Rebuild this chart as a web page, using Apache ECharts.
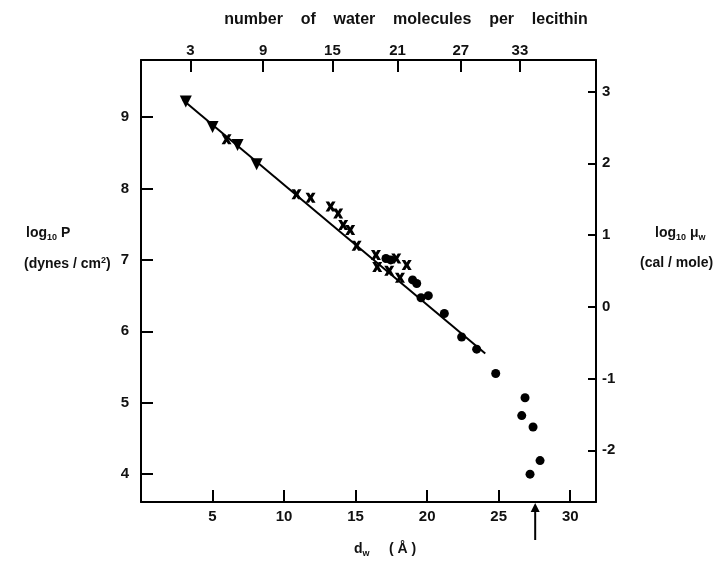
<!DOCTYPE html>
<html>
<head>
<meta charset="utf-8">
<script src="https://cdn.jsdelivr.net/npm/echarts@6/dist/echarts.min.js"></script>
<style>html,body{margin:0;padding:0;background:#fff}#c{width:728px;height:561px}</style>
</head>
<body>
<div id="c"></div>
<script>
// ---- data ----
const triX = [3.13, 5.00, 6.75, 8.08];
const triY = [9.22, 8.86, 8.61, 8.34];
const crossX = [5.98, 10.87, 11.85, 13.25, 13.78, 14.13, 14.62, 15.07, 16.42, 16.51, 17.35, 17.84, 18.10, 18.57];
const crossY = [8.69, 7.92, 7.87, 7.75, 7.65, 7.49, 7.42, 7.20, 7.07, 6.90, 6.85, 7.02, 6.75, 6.93];
const circleX = [17.12, 17.45, 18.98, 19.27, 19.57, 20.08, 21.20, 22.41, 23.46, 24.79, 26.84, 26.61, 27.40, 27.89, 27.19];
const circleY = [7.02, 7.00, 6.72, 6.67, 6.47, 6.50, 6.25, 5.92, 5.75, 5.41, 5.07, 4.82, 4.66, 4.19, 4.00];
const fitX = [2.93, 24.06];
const fitY = [9.24, 5.69];
const bottomTicks = [5, 10, 15, 20, 25, 30];
const leftTicks = [4, 5, 6, 7, 8, 9];
const rightTicks = [-2, -1, 0, 1, 2, 3];
const topTickLabels = ['3', '9', '15', '21', '27', '33'];
const topTickPos = [3.46, 8.53, 13.38, 17.93, 22.35, 26.48];
const arrowX = 27.55;
const xMin = 0, xMax = 31.8;
const yLeftMin = 3.61, yLeftMax = 9.80;
const yRightMin = -2.72, yRightMax = 3.44;

const zip = (a, b) => a.map((v, i) => [v, b[i]]);
const FONT = 'Liberation Sans';
const lab = {fontFamily: FONT, fontSize: 15, fontWeight: 'bold', color: '#111'};
const axLine = {show: true, onZero: false, lineStyle: {color: '#000', width: 2}};
const F14 = 'bold 14px "Liberation Sans"';
const F16 = 'bold 16px "Liberation Sans"';
const F9 = 'bold 9px "Liberation Sans"';

const chart = echarts.init(document.getElementById('c'), null, {renderer: 'canvas'});
chart.setOption({
  animation: false,
  backgroundColor: '#fff',
  grid: {left: 141, right: 132, top: 60, bottom: 59, containLabel: false},
  xAxis: [
    {type: 'value', position: 'bottom', min: xMin, max: xMax,
     axisLine: axLine, splitLine: {show: false},
     axisTick: {show: true, inside: true, length: 12, lineStyle: {color: '#000', width: 2}, customValues: bottomTicks},
     axisLabel: Object.assign({margin: 7, customValues: bottomTicks}, lab)},
    {type: 'value', position: 'top', min: xMin, max: xMax,
     axisLine: axLine, splitLine: {show: false},
     axisTick: {show: true, inside: true, length: 12, lineStyle: {color: '#000', width: 2}, customValues: topTickPos},
     axisLabel: Object.assign({margin: 2, customValues: topTickPos,
       formatter: v => { const i = topTickPos.findIndex(p => Math.abs(p - v) < 1e-6); return i >= 0 ? topTickLabels[i] : ''; }}, lab)}
  ],
  yAxis: [
    {type: 'value', position: 'left', min: yLeftMin, max: yLeftMax,
     axisLine: axLine, splitLine: {show: false},
     axisTick: {show: true, inside: true, length: 12, lineStyle: {color: '#000', width: 2}, customValues: leftTicks},
     axisLabel: Object.assign({margin: 12, customValues: leftTicks}, lab)},
    {type: 'value', position: 'right', min: yRightMin, max: yRightMax,
     axisLine: axLine, splitLine: {show: false},
     axisTick: {show: true, inside: true, length: 8, lineStyle: {color: '#000', width: 2}, customValues: rightTicks},
     axisLabel: Object.assign({margin: 6, customValues: rightTicks}, lab)}
  ],
  series: [
    {type: 'line', data: zip(fitX, fitY), showSymbol: false, symbol: 'none',
     lineStyle: {color: '#000', width: 2}, z: 1},
    {type: 'scatter', data: zip(triX, triY), symbol: 'triangle', symbolRotate: 180, symbolSize: 12,
     itemStyle: {color: '#000', opacity: 1}, z: 3},
    {type: 'scatter', data: zip(crossX, crossY),
     symbol: 'path://M0,0 L3.5,0 L5,2.5 L6.5,0 L10,0 L7,5 L10,10 L6.5,10 L5,7.5 L3.5,10 L0,10 L3,5 Z',
     symbolSize: 10, itemStyle: {color: '#000', opacity: 1}, z: 3},
    {type: 'scatter', data: zip(circleX, circleY), symbol: 'circle', symbolSize: 9,
     itemStyle: {color: '#000', opacity: 1}, z: 3},
    {type: 'custom', data: [[arrowX, yLeftMin]], clip: false, z: 4,
     renderItem: (params, api) => {
       const p = api.coord([api.value(0), api.value(1)]);
       return {type: 'group', children: [
         {type: 'line', shape: {x1: p[0], y1: p[1] + 38, x2: p[0], y2: p[1] + 6}, style: {stroke: '#000', lineWidth: 2}},
         {type: 'polygon', shape: {points: [[p[0], p[1] + 1], [p[0] - 4.5, p[1] + 10], [p[0] + 4.5, p[1] + 10]]}, style: {fill: '#000'}}
       ]};
     }}
  ],
  graphic: [
    {type: 'text', x: 406, y: 12,
     style: {text: 'number    of    water    molecules    per    lecithin', font: F16, fill: '#111', align: 'center', verticalAlign: 'top'}},
    {type: 'text', x: 26, y: 225,
     style: {text: '{a|log}{s|10}{a| P}', rich: {a: {font: F14, fill: '#111'}, s: {font: F9, fill: '#111', padding: [8, 0, 0, 0]}}}},
    {type: 'text', x: 24, y: 256,
     style: {text: '{a|(dynes / cm}{s|2}{a|)}', rich: {a: {font: F14, fill: '#111'}, s: {font: F9, fill: '#111', padding: [0, 0, 8, 0]}}}},
    {type: 'text', x: 655, y: 225,
     style: {text: '{a|log}{s|10}{a| μ}{s|w}', rich: {a: {font: F14, fill: '#111'}, s: {font: F9, fill: '#111', padding: [8, 0, 0, 0]}}}},
    {type: 'text', x: 640, y: 256,
     style: {text: '(cal / mole)', font: F14, fill: '#111'}},
    {type: 'text', x: 354, y: 541,
     style: {text: '{a|d}{s|w}{a|     ( Å )}', rich: {a: {font: F14, fill: '#111'}, s: {font: F9, fill: '#111', padding: [8, 0, 0, 0]}}}}
  ]
});
</script>
</body>
</html>
